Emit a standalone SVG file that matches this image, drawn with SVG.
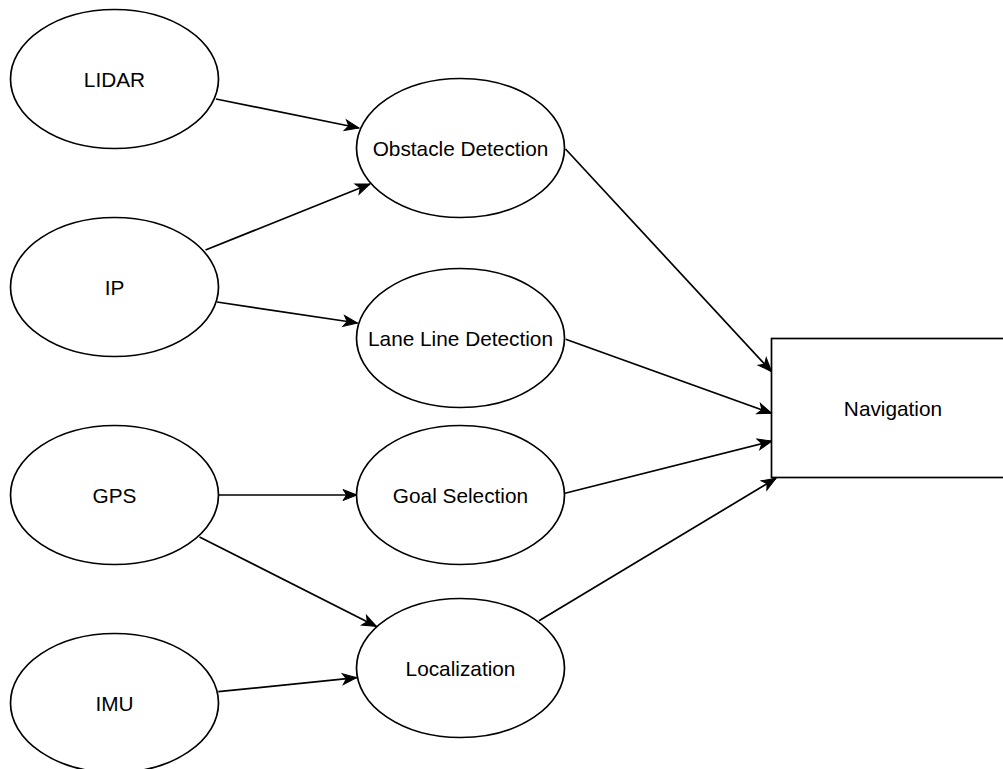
<svg xmlns="http://www.w3.org/2000/svg" width="1003" height="769" viewBox="0 0 1003 769">
<style>
.n{fill:#fff;stroke:#000;stroke-width:1.7}
.t{font-family:"Liberation Sans",Arial,sans-serif;font-size:20.8px;fill:#000;text-anchor:middle}
.c{fill:none;stroke:#000;stroke-width:1.7}
</style>
<defs>
<marker id="ah" markerUnits="userSpaceOnUse" markerWidth="16" markerHeight="12" refX="14" refY="5.5" orient="auto" overflow="visible">
<path d="M0,0 L14,5.5 L0,11 L3.6,5.5 Z" fill="#000" stroke="#000" stroke-width="1"/>
</marker>
</defs>
<rect width="1003" height="769" fill="#fff"/>
<g id="connectors">
<line class="c" x1="216" y1="99" x2="359" y2="128" marker-end="url(#ah)"/>
<line class="c" x1="205.5" y1="250" x2="370" y2="184" marker-end="url(#ah)"/>
<line class="c" x1="217" y1="302" x2="357.5" y2="323" marker-end="url(#ah)"/>
<line class="c" x1="218.5" y1="495" x2="357" y2="495" marker-end="url(#ah)"/>
<line class="c" x1="199.5" y1="537" x2="376.5" y2="626.5" marker-end="url(#ah)"/>
<line class="c" x1="218.3" y1="691.7" x2="356.7" y2="677.7" marker-end="url(#ah)"/>
<line class="c" x1="565.5" y1="149" x2="771.7" y2="371.7" marker-end="url(#ah)"/>
<line class="c" x1="565.7" y1="339.3" x2="771.7" y2="413.3" marker-end="url(#ah)"/>
<line class="c" x1="565" y1="493.3" x2="772" y2="441" marker-end="url(#ah)"/>
<line class="c" x1="539" y1="620.7" x2="776" y2="478.3" marker-end="url(#ah)"/>
</g>
<g id="lidar"><ellipse class="n" cx="114.5" cy="79" rx="104" ry="69.5"/><text class="t" x="114.5" y="86.5">LIDAR</text></g>
<g id="ip"><ellipse class="n" cx="114.5" cy="287" rx="104" ry="69.5"/><text class="t" x="114.5" y="294.5">IP</text></g>
<g id="gps"><ellipse class="n" cx="114.5" cy="495" rx="104" ry="69.5"/><text class="t" x="114.5" y="502.5">GPS</text></g>
<g id="imu"><ellipse class="n" cx="114.5" cy="703" rx="104" ry="69.5"/><text class="t" x="114.5" y="710.5">IMU</text></g>
<g id="obstacle"><ellipse class="n" cx="460.5" cy="148" rx="104" ry="69.5"/><text class="t" x="460.5" y="155.5">Obstacle Detection</text></g>
<g id="lane"><ellipse class="n" cx="460.5" cy="338" rx="104" ry="69.5"/><text class="t" x="460.5" y="345.5">Lane Line Detection</text></g>
<g id="goal"><ellipse class="n" cx="460.5" cy="495" rx="104" ry="69.5"/><text class="t" x="460.5" y="502.5">Goal Selection</text></g>
<g id="localization"><ellipse class="n" cx="460.5" cy="668" rx="104" ry="69.5"/><text class="t" x="460.5" y="675.5">Localization</text></g>
<g id="navigation"><rect class="n" x="771.5" y="338.5" width="243" height="139"/><text class="t" x="893" y="415.5">Navigation</text></g>
</svg>
